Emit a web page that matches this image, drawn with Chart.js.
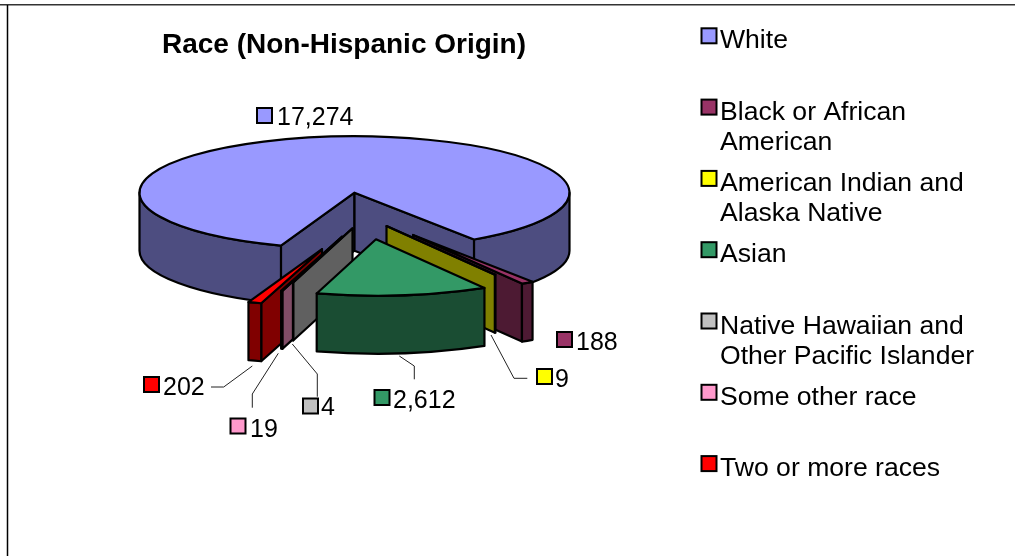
<!DOCTYPE html>
<html>
<head>
<meta charset="utf-8">
<style>html,body{margin:0;padding:0;background:#fff}canvas{display:block}</style>
<script src="https://cdn.jsdelivr.net/npm/chart.js@4"></script>
</head>
<body>
<canvas id="c" width="1015" height="556"></canvas>
<script>
const categories = ["White","Black or African American","American Indian and Alaska Native","Asian","Native Hawaiian and Other Pacific Islander","Some other race","Two or more races"];
const values = [17274,188,9,2612,4,19,202];
const colors = ["#9999FF","#993366","#FFFF00","#339966","#C0C0C0","#FF99CC","#FF0000"];

/* exploded-slice displacement on screen, per slice (pixels) */
const explodeX = [0,58.5,32,21.5,-2,-12.6,-32.5];
const explodeY = [0,42.3,33.4,46.6,35.6,44,56.5];
const paintOrder = [0,1,2,6,5,4,3];

/* view of the tilted pie */
const pieCenter = {x:354.5,y:192.7};
const tilt = 0.262, depth = 58, FONT = '"Liberation Sans", Arial, sans-serif';

/* value label furniture, same order as categories: box corner, text start, baseline */
const labelBox = [[256,107],[556,331],[536,368],[373.5,389],[302,397.5],[229.5,417.5],[143,376]];
const labelText = [[277,125],[576,350],[555,387],[393,407.5],[321,415],[250,437],[163,394.5]];
const leaders = [null,null,
  [[527.3,378.3],[514,378.3],[491,335]],
  [[414.3,379.3],[414.3,366],[399.3,356]],
  [[317.3,396.7],[317.3,374],[292.3,344]],
  [[252.3,407.7],[252.3,394],[278.3,353.3]],
  [[211,387],[223.7,387],[252.3,366]]];

function halfShade(hex){
  const n = parseInt(hex.slice(1),16);
  const f = v => Math.ceil(v/2);
  return `rgb(${f(n>>16&255)},${f(n>>8&255)},${f(n&255)})`;
}
function wrap(ctx,text,max){
  const out=[];let line='';
  text.split(' ').forEach(w=>{
    const t=line?line+' '+w:w;
    if(ctx.measureText(t).width*1.06>max&&line){out.push(line);line=w;}else line=t;
  });
  out.push(line);return out;
}
function stretched(ctx,str,x,y){
  ctx.save();ctx.translate(x,y);ctx.scale(1.063,1);ctx.fillText(str,0,0);ctx.restore();
}
function keyBox(ctx,x,y,fill){
  ctx.fillStyle=fill;ctx.strokeStyle='#000';ctx.lineWidth=2;
  ctx.fillRect(x+1,y+1,15,15);ctx.strokeRect(x+1,y+1,15,15);
}

const pie3d = {
  id:'pie3d',
  beforeDatasetDraw(chart){
    const ctx=chart.ctx, arcs=chart.getDatasetMeta(0).data;
    paintOrder.forEach(i=>{
      const el=arcs[i], r=el.outerRadius, s=el.startAngle, e=el.endAngle;
      const cx=pieCenter.x+explodeX[i], cy=pieCenter.y+explodeY[i];
      const side=halfShade(colors[i]);
      const pt=(a,d)=>[cx+r*Math.cos(a),cy+tilt*r*Math.sin(a)+d];
      ctx.save();
      ctx.lineJoin='round';ctx.lineWidth=2.2;ctx.strokeStyle='#000';ctx.fillStyle=side;
      const wall=(a)=>{
        const p=pt(a,0);
        ctx.beginPath();ctx.moveTo(cx,cy);ctx.lineTo(p[0],p[1]);
        ctx.lineTo(p[0],p[1]+depth);ctx.lineTo(cx,cy+depth);ctx.closePath();
        ctx.fill();ctx.stroke();
      };
      // radial cut faces turned toward the viewer
      if(Math.sin(s-Math.PI/2)>0) wall(s);
      if(Math.sin(e+Math.PI/2)>0) wall(e);
      // outer rim, front half only
      for(let k=-2;k<3;k++){
        const a0=Math.max(s,k*2*Math.PI), a1=Math.min(e,k*2*Math.PI+Math.PI);
        if(a1<=a0) continue;
        ctx.beginPath();
        ctx.ellipse(cx,cy,r,tilt*r,0,a0,a1);
        ctx.ellipse(cx,cy+depth,r,tilt*r,0,a1,a0,true);
        ctx.closePath();ctx.fill();ctx.stroke();
      }
      // top face: the library's own arc element under the tilt
      ctx.save();
      ctx.translate(cx,cy);ctx.scale(1,tilt);ctx.translate(-el.x,-el.y);
      el.draw(ctx);
      ctx.beginPath();ctx.moveTo(el.x,el.y);ctx.arc(el.x,el.y,r,s,e);ctx.closePath();
      ctx.restore();
      ctx.stroke();
      ctx.restore();
    });
    return false;
  },
  afterDraw(chart){
    const ctx=chart.ctx;
    ctx.save();
    // chart frame
    ctx.strokeStyle='#333';ctx.lineWidth=1.5;
    ctx.beginPath();ctx.moveTo(0,4.75);ctx.lineTo(1015,4.75);ctx.stroke();
    ctx.strokeStyle='#000';
    ctx.beginPath();ctx.moveTo(7.5,5);ctx.lineTo(7.5,556);ctx.stroke();
    // leader lines
    ctx.strokeStyle='#222';ctx.lineWidth=1;
    leaders.forEach(l=>{ if(!l) return;
      ctx.beginPath();l.forEach((p,j)=>j?ctx.lineTo(p[0],p[1]):ctx.moveTo(p[0],p[1]));ctx.stroke();
    });
    // value labels
    ctx.font='25px '+FONT;ctx.textBaseline='alphabetic';ctx.textAlign='left';
    values.forEach((v,i)=>{
      keyBox(ctx,labelBox[i][0],labelBox[i][1],colors[i]);
      ctx.fillStyle='#000';
      ctx.fillText(v.toLocaleString('en-US'),labelText[i][0],labelText[i][1]);
    });
    // legend
    categories.forEach((c,i)=>{
      const base=48.3+71.3*i;
      keyBox(ctx,700.5,base-21,colors[i]);
      ctx.fillStyle='#000';
      wrap(ctx,c,262).forEach((ln,j)=>stretched(ctx,ln,720,base+30*j));
    });
    ctx.restore();
  }
};

new Chart(document.getElementById('c'),{
  type:'pie',
  data:{labels:categories,datasets:[{data:values,backgroundColor:colors,borderWidth:0,hoverOffset:0}]},
  options:{
    responsive:false,animation:false,devicePixelRatio:1,events:[],
    radius:215,rotation:200,
    layout:{padding:{left:0,right:327,top:0,bottom:0}},
    plugins:{
      legend:{display:false},tooltip:{enabled:false},
      title:{display:true,text:'Race (Non-Hispanic Origin)',color:'#000',
        font:{family:FONT,size:28,weight:'bold'},padding:{top:28,bottom:0}}
    }
  },
  plugins:[pie3d]
});
</script>
</body>
</html>
